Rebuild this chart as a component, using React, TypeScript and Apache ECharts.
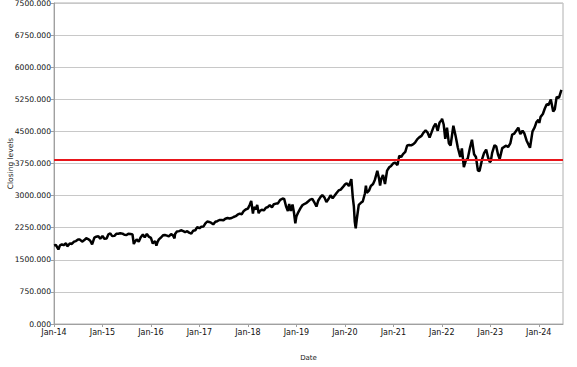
import React, { useEffect, useRef } from "react";
import * as echarts from "echarts";

const dates: string[] = [
  "2014-01-02","2014-01-15","2014-02-03","2014-02-15","2014-03-01","2014-03-14","2014-04-01","2014-04-11","2014-05-01","2014-05-15","2014-06-01","2014-06-15","2014-07-01","2014-07-15","2014-08-01","2014-08-15","2014-09-01","2014-09-15","2014-10-01","2014-10-15","2014-11-01","2014-11-15","2014-12-01","2014-12-15",
  "2015-01-01","2015-01-15","2015-02-01","2015-02-15","2015-03-01","2015-03-15","2015-04-01","2015-04-15","2015-05-01","2015-05-15","2015-06-01","2015-06-15","2015-07-01","2015-07-15","2015-08-01","2015-08-15","2015-08-25","2015-09-01","2015-09-15","2015-10-01","2015-10-15","2015-11-01","2015-11-15","2015-12-01","2015-12-15",
  "2016-01-01","2016-01-15","2016-02-01","2016-02-11","2016-02-20","2016-03-01","2016-03-15","2016-04-01","2016-04-15","2016-05-01","2016-05-15","2016-06-01","2016-06-15","2016-06-27","2016-07-01","2016-07-15","2016-08-01","2016-08-15","2016-09-01","2016-09-15","2016-10-01","2016-10-15","2016-11-01","2016-11-15","2016-12-01","2016-12-15",
  "2017-01-01","2017-01-15","2017-02-01","2017-02-15","2017-03-01","2017-03-15","2017-04-01","2017-04-15","2017-05-01","2017-05-15","2017-06-01","2017-06-15","2017-07-01","2017-07-15","2017-08-01","2017-08-15","2017-09-01","2017-09-15","2017-10-01","2017-10-15","2017-11-01","2017-11-15","2017-12-01","2017-12-15",
  "2018-01-01","2018-01-15","2018-01-26","2018-02-08","2018-02-15","2018-03-01","2018-03-12","2018-03-23","2018-04-01","2018-04-15","2018-05-01","2018-05-15","2018-06-01","2018-06-15","2018-07-01","2018-07-15","2018-08-01","2018-08-15","2018-09-01","2018-09-20","2018-10-01","2018-10-15","2018-10-29","2018-11-08","2018-11-20","2018-12-03","2018-12-14","2018-12-24",
  "2019-01-01","2019-01-15","2019-02-01","2019-02-15","2019-03-01","2019-03-15","2019-04-01","2019-04-15","2019-05-01","2019-05-15","2019-06-01","2019-06-15","2019-07-01","2019-07-15","2019-08-01","2019-08-15","2019-09-01","2019-09-15","2019-10-01","2019-10-15","2019-11-01","2019-11-15","2019-12-01","2019-12-15",
  "2020-01-01","2020-01-15","2020-02-01","2020-02-19","2020-03-01","2020-03-09","2020-03-16","2020-03-23","2020-04-01","2020-04-15","2020-05-01","2020-05-15","2020-06-01","2020-06-08","2020-06-15","2020-07-01","2020-07-15","2020-08-01","2020-08-15","2020-09-02","2020-09-15","2020-09-23","2020-10-01","2020-10-15","2020-10-30","2020-11-15","2020-12-01","2020-12-15",
  "2021-01-01","2021-01-15","2021-02-01","2021-02-15","2021-03-01","2021-03-15","2021-04-01","2021-04-15","2021-05-01","2021-05-15","2021-06-01","2021-06-15","2021-07-01","2021-07-15","2021-08-01","2021-08-15","2021-09-01","2021-09-15","2021-10-01","2021-10-15","2021-11-01","2021-11-15","2021-12-01","2021-12-15","2021-12-31",
  "2022-01-03","2022-01-15","2022-01-27","2022-02-09","2022-02-23","2022-03-08","2022-03-29","2022-04-15","2022-05-01","2022-05-20","2022-06-01","2022-06-16","2022-07-01","2022-07-15","2022-08-01","2022-08-16","2022-09-01","2022-09-15","2022-09-30","2022-10-12","2022-11-01","2022-11-15","2022-12-01","2022-12-15","2022-12-28",
  "2023-01-05","2023-01-15","2023-02-02","2023-02-15","2023-03-01","2023-03-13","2023-04-01","2023-04-15","2023-05-01","2023-05-15","2023-06-01","2023-06-15","2023-07-01","2023-07-31","2023-08-15","2023-09-01","2023-09-15","2023-10-01","2023-10-27","2023-11-15","2023-12-01","2023-12-15","2023-12-29",
  "2024-01-05","2024-01-15","2024-02-01","2024-02-15","2024-03-01","2024-03-15","2024-04-01","2024-04-19","2024-05-01","2024-05-15","2024-06-01","2024-06-20"
];

const closes: number[] = [
  1831,1848,1742,1838,1859,1841,1885,1815,1883,1870,1924,1937,1973,1973,1925,1955,2003,1985,1946,1862,2018,2039,2053,1990,
  2058,1992,1995,2096,2117,2053,2059,2106,2108,2122,2111,2084,2077,2108,2104,2092,1867,1914,1978,1923,2023,2090,2023,2102,2043,
  2012,1880,1939,1829,1917,1978,2015,2072,2080,2065,2046,2099,2071,2000,2102,2161,2170,2190,2170,2147,2168,2133,2111,2180,2191,2262,
  2238,2274,2279,2349,2395,2385,2362,2328,2388,2402,2430,2432,2423,2459,2476,2464,2476,2500,2519,2553,2579,2564,2642,2675,
  2695,2786,2873,2581,2731,2677,2783,2588,2640,2670,2654,2711,2734,2779,2726,2798,2813,2818,2901,2931,2924,2750,2641,2806,2641,2790,2599,2351,
  2510,2610,2706,2775,2803,2822,2867,2905,2923,2850,2744,2886,2964,3014,2953,2847,2926,3007,2940,2995,3066,3120,3141,3191,
  3257,3289,3225,3386,2954,2746,2386,2237,2470,2783,2831,2863,3055,3232,3066,3115,3226,3271,3372,3580,3401,3237,3380,3483,3270,3585,3662,3694,
  3756,3768,3714,3934,3901,3968,4020,4170,4181,4173,4202,4246,4320,4360,4395,4468,4524,4480,4357,4471,4613,4682,4513,4709,4766,
  4796,4662,4326,4587,4225,4170,4631,4392,4131,3901,4101,3666,3825,3863,4118,4305,3967,3901,3585,3577,3856,3991,4076,3895,3783,
  3808,3999,4179,4147,3951,3855,4109,4137,4167,4136,4221,4425,4450,4589,4437,4515,4450,4288,4117,4502,4594,4719,4770,
  4697,4840,4906,5029,5137,5117,5243,4967,5018,5308,5283,5473
];

const referenceLevel = 3840;
const yTicksMin = 0;
const yTicksMax = 7500;
const yTickStep = 750;
const xStartYear = 2014;
const xEndYear = 2024.5;

function toDecimalYear(s: string): number {
  const [y, m, d] = s.split("-").map(Number);
  const start = Date.UTC(y, 0, 1);
  const end = Date.UTC(y + 1, 0, 1);
  const t = Date.UTC(y, m - 1, d);
  return y + (t - start) / (end - start);
}

export default function App() {
  const ref = useRef<HTMLDivElement>(null);
  useEffect(() => {
    if (!ref.current) return;
    const chart = echarts.init(ref.current, undefined, { renderer: "svg" });
    const font = "DejaVu Sans";
    chart.setOption({
      animation: false,
      backgroundColor: "#ffffff",
      grid: {
        left: 54,
        right: 14,
        top: 3,
        bottom: 43,
        show: true,
        borderColor: "#b0b0b0",
        borderWidth: 1,
        containLabel: false,
        outerBoundsMode: "none",
      },
      xAxis: {
        type: "value",
        min: xStartYear,
        max: xEndYear,
        interval: 1,
        name: "Date",
        nameLocation: "middle",
        nameGap: 30,
        nameMoveOverlap: false,
        nameTextStyle: { fontFamily: font, fontSize: 7, color: "#222" },
        axisLine: { show: true, onZero: false, lineStyle: { color: "#a0a0a0", width: 1 } },
        axisTick: { show: true, length: 3, lineStyle: { color: "#a0a0a0" } },
        splitLine: { show: false },
        axisLabel: {
          fontFamily: font,
          fontSize: 8,
          color: "#111",
          margin: 4,
          showMaxLabel: false,
          formatter: (v: number) =>
            Math.abs(v - Math.round(v)) < 1e-6 ? "Jan-" + String(Math.round(v) % 100).padStart(2, "0") : "",
        },
      },
      yAxis: {
        type: "value",
        min: yTicksMin,
        max: yTicksMax,
        interval: yTickStep,
        name: "Closing levels",
        nameLocation: "middle",
        nameGap: 40,
        nameMoveOverlap: false,
        nameTextStyle: { fontFamily: font, fontSize: 7.5, color: "#222" },
        axisLine: { show: true, lineStyle: { color: "#a0a0a0", width: 1 } },
        axisTick: { show: true, length: 3, lineStyle: { color: "#a0a0a0" } },
        splitLine: { show: true, lineStyle: { color: "#c8c8c8", width: 1 } },
        axisLabel: {
          fontFamily: font,
          fontSize: 7.6,
          color: "#111",
          margin: 3,
          showMinLabel: true,
          showMaxLabel: true,
          hideOverlap: false,
          formatter: (v: number) => v.toFixed(3),
        },
      },
      series: [
        {
          type: "line",
          data: dates.map((d, i) => [toDecimalYear(d), closes[i]]),
          showSymbol: false,
          symbol: "none",
          lineStyle: { color: "#000000", width: 2.5 },
          markLine: {
            silent: true,
            symbol: ["none", "none"],
            label: { show: false },
            lineStyle: { color: "#e8161b", width: 2, type: "solid" },
            data: [{ yAxis: referenceLevel }],
          },
          z: 3,
        },
      ],
    });
    return () => chart.dispose();
  }, []);
  return <div ref={ref} style={{ position: "absolute", left: 0, top: 0, width: 577, height: 367 }} />;
}
